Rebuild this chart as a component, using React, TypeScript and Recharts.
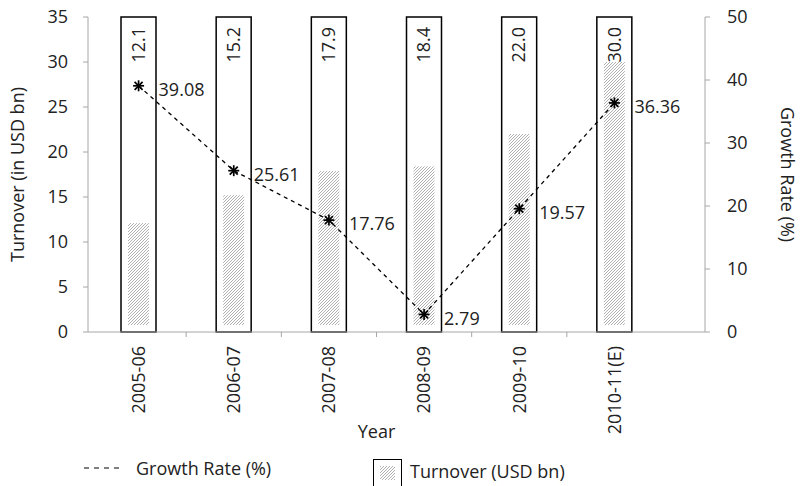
import { ComposedChart, Bar, Line, XAxis, YAxis, LabelList } from "recharts";

const years = ["2005-06", "2006-07", "2007-08", "2008-09", "2009-10", "2010-11(E)"];
const turnover = [12.1, 15.2, 17.9, 18.4, 22.0, 30.0];
const growthRate = [39.08, 25.61, 17.76, 2.79, 19.57, 36.36];
const turnoverTicks = [0, 5, 10, 15, 20, 25, 30, 35];
const growthTicks = [0, 10, 20, 30, 40, 50];

const FONT = "'Open Sans', 'Noto Sans', sans-serif";
const INK = "#222";
const AXIS = "#a6a6a6";
const PLOT_BOTTOM = 332;
const HALF_BAND = 47.6;
const FONT_SIZE = 18;

const rows = years.map((year, i) => ({
  year,
  frame: turnoverTicks[turnoverTicks.length - 1],
  turnover: turnover[i],
  growth: growthRate[i],
}));

function YearTick({ x, y, payload, index }: any) {
  return (
    <g>
      {index < years.length - 1 && (
        <line
          x1={x + HALF_BAND}
          x2={x + HALF_BAND}
          y1={PLOT_BOTTOM}
          y2={PLOT_BOTTOM + 5}
          stroke={AXIS}
        />
      )}
      <text
        transform={`translate(${x},${y + 14}) rotate(-90)`}
        textAnchor="end"
        dy="0.35em"
        fill={INK}
        fontSize={FONT_SIZE}
        fontFamily={FONT}
      >
        {payload.value}
      </text>
    </g>
  );
}

function StarDot({ cx, cy }: any) {
  if (cx == null || cy == null) return null;
  const r = 5.5;
  const d = 4;
  return (
    <g stroke="#000" strokeWidth={1.7}>
      <line x1={cx} y1={cy - r} x2={cx} y2={cy + r} />
      <line x1={cx - r} y1={cy} x2={cx + r} y2={cy} />
      <line x1={cx - d} y1={cy - d} x2={cx + d} y2={cy + d} />
      <line x1={cx - d} y1={cy + d} x2={cx + d} y2={cy - d} />
    </g>
  );
}

// hatched turnover column, lifted off the baseline inside its frame
function HatchShape({ x, y, width, height }: any) {
  const h = Math.max(height - 7, 0);
  return <rect x={x} y={y} width={width} height={h} fill="url(#hatch)" />;
}

function TurnoverLabel({ x, y, width, value }: any) {
  return (
    <text
      transform={`translate(${x + width / 2},${y + 10}) rotate(-90)`}
      textAnchor="end"
      dy="0.35em"
      fill={INK}
      fontSize={FONT_SIZE}
      fontFamily={FONT}
    >
      {Number(value).toFixed(1)}
    </text>
  );
}

function GrowthLabel({ x, y, value }: any) {
  return (
    <text
      x={x + 20}
      y={y + 4}
      dy="0.35em"
      fill={INK}
      fontSize={FONT_SIZE}
      fontFamily={FONT}
    >
      {Number(value).toFixed(2)}
    </text>
  );
}

const axisTitle = (text: string, side: "left" | "right") => ({ viewBox }: any) => {
  const cy = viewBox.y + viewBox.height / 2;
  const cx = side === "left" ? viewBox.x + 18 : viewBox.x + 82;
  return (
    <text
      transform={`translate(${cx},${cy}) rotate(${side === "left" ? -90 : 90})`}
      textAnchor="middle"
      dy="0.35em"
      fill={INK}
      fontSize={FONT_SIZE}
      fontFamily={FONT}
    >
      {text}
    </text>
  );
};

function YearTitle({ viewBox }: any) {
  return (
    <text
      x={viewBox.x + viewBox.width / 2 - 20}
      y={viewBox.y + 100}
      textAnchor="middle"
      dy="0.35em"
      fill={INK}
      fontSize={FONT_SIZE}
      fontFamily={FONT}
    >
      Year
    </text>
  );
}

export default function App() {
  const tickStyle = { fill: INK, fontSize: FONT_SIZE, fontFamily: FONT };
  return (
    <div style={{ position: "relative", width: 801, height: 486, background: "#fff" }}>
      <style>{"body{margin:0}"}</style>
      <svg width={0} height={0} style={{ position: "absolute" }}>
        <defs>
          <pattern id="hatch" patternUnits="userSpaceOnUse" width={3} height={3}>
            <rect width={3} height={3} fill="#fff" />
            <path d="M-1,1 l2,-2 M0,3 l3,-3 M2,4 l2,-2" stroke="#9c9c9c" strokeWidth={0.8} />
          </pattern>
        </defs>
      </svg>
      <ComposedChart
        width={801}
        height={486}
        data={rows}
        margin={{ top: 17, right: 0, bottom: 0, left: 0 }}
      >
        <XAxis xAxisId="inner" dataKey="year" hide height={0} padding={{ left: 3, right: 43 }} />
        <XAxis
          xAxisId="main"
          dataKey="year"
          height={154}
          padding={{ left: 3, right: 43 }}
          interval={0}
          tickLine={false}
          tickSize={0}
          tickMargin={0}
          axisLine={{ stroke: AXIS }}
          tick={<YearTick />}
          label={{ content: YearTitle }}
        />
        <YAxis
          yAxisId="left"
          domain={[0, 35]}
          ticks={turnoverTicks}
          width={88}
          stroke={AXIS}
          tickSize={5}
          tickMargin={15}
          tick={tickStyle}
          label={{ content: axisTitle("Turnover (in USD bn)", "left") }}
        />
        <YAxis
          yAxisId="right"
          orientation="right"
          domain={[0, 50]}
          ticks={growthTicks}
          width={96}
          stroke={AXIS}
          tickSize={5}
          tickMargin={17}
          tick={tickStyle}
          label={{ content: axisTitle("Growth Rate (%)", "right") }}
        />
        <Bar
          xAxisId="main"
          yAxisId="left"
          dataKey="frame"
          barSize={35}
          fill="none"
          stroke="#000"
          strokeWidth={1.5}
          isAnimationActive={false}
        >
          <LabelList dataKey="turnover" content={TurnoverLabel} />
        </Bar>
        <Bar
          xAxisId="inner"
          yAxisId="left"
          dataKey="turnover"
          barSize={21}
          shape={HatchShape}
          isAnimationActive={false}
        />
        <Line
          xAxisId="main"
          yAxisId="right"
          dataKey="growth"
          stroke="#000"
          strokeWidth={1.3}
          strokeDasharray="4 4"
          dot={<StarDot />}
          activeDot={false}
          isAnimationActive={false}
        >
          <LabelList dataKey="growth" content={GrowthLabel} />
        </Line>
      </ComposedChart>
      <div
        style={{
          position: "absolute",
          left: 84,
          top: 456,
          display: "flex",
          alignItems: "center",
          fontFamily: FONT,
          fontSize: FONT_SIZE,
          color: INK,
        }}
      >
        <svg width={40} height={20}>
          <line x1={0} x2={40} y1={10} y2={10} stroke="#000" strokeWidth={1.2} strokeDasharray="5 5" />
        </svg>
        <span style={{ marginLeft: 12 }}>Growth Rate (%)</span>
      </div>
      <div
        style={{
          position: "absolute",
          left: 373,
          top: 459,
          display: "flex",
          alignItems: "center",
          fontFamily: FONT,
          fontSize: FONT_SIZE,
          color: INK,
        }}
      >
        <svg width={30} height={28}>
          <rect x={0.5} y={0.5} width={28} height={27} fill="#fff" stroke="#000" />
          <rect x={7} y={7} width={15} height={14} fill="url(#hatch)" />
        </svg>
        <span style={{ marginLeft: 7, marginTop: -4 }}>Turnover (USD bn)</span>
      </div>
    </div>
  );
}
